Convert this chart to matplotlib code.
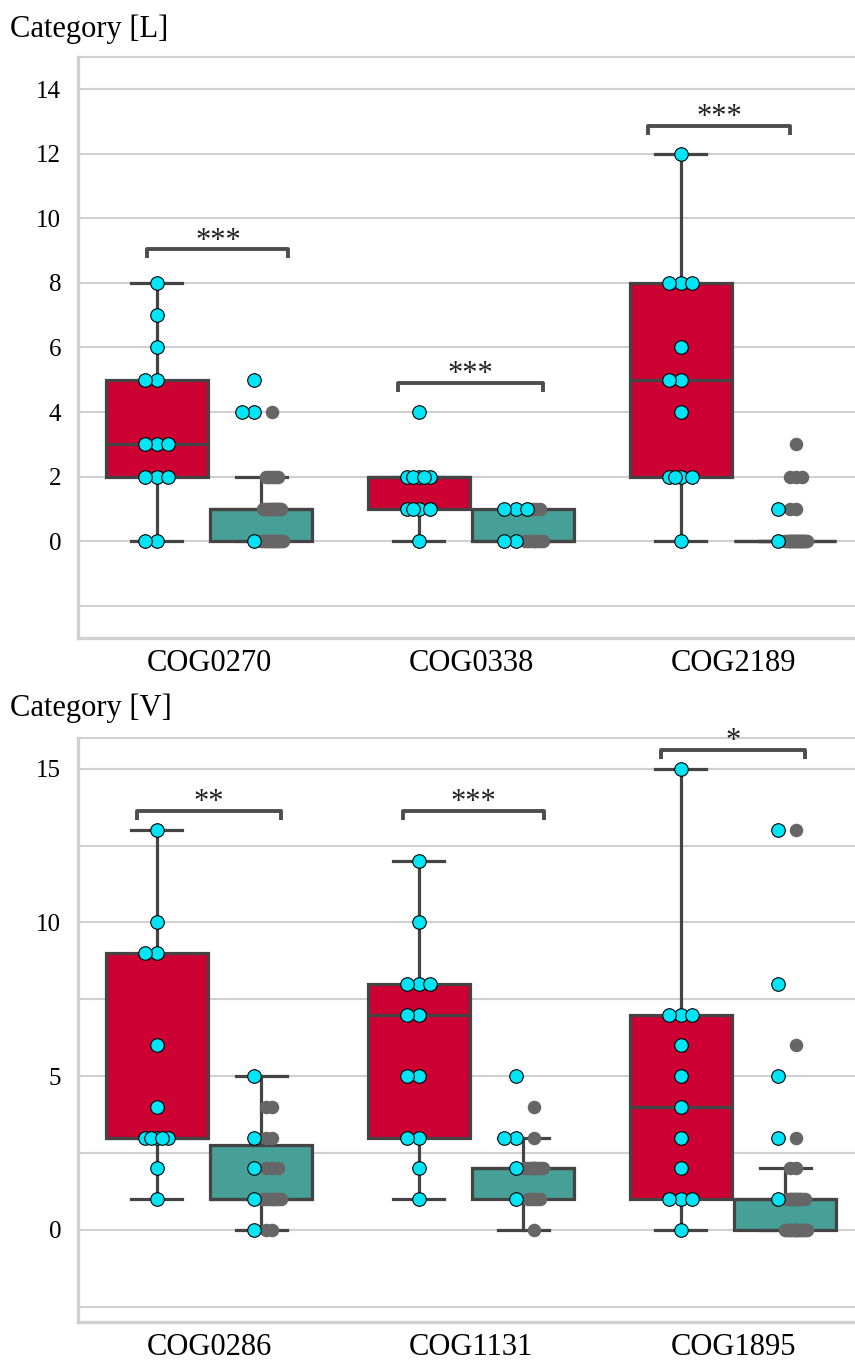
import matplotlib
matplotlib.use("Agg")
import matplotlib.pyplot as plt

plt.rcParams['font.family'] = ['Liberation Serif', 'DejaVu Serif']

# Category [L]
cats_L = ['COG0270', 'COG0338', 'COG2189']
red_L = [
    [0, 0, 2, 2, 2, 3, 3, 3, 5, 5, 6, 7, 8],
    [0, 1, 1, 1, 1, 2, 2, 2, 2, 2, 4],
    [0, 2, 2, 2, 2, 4, 5, 5, 6, 8, 8, 8, 12],
]
teal_gray_L = [
    [0] * 15 + [1] * 12 + [2] * 5 + [4],
    [0] * 8 + [1] * 5,
    [0] * 21 + [1] * 2 + [2] * 3 + [3],
]
teal_cyan_L = [
    [0, 4, 4, 5],
    [0, 0, 1, 1, 1],
    [0, 1],
]
stars_L = ['***', '***', '***']
yticks_L = [-2, 0, 2, 4, 6, 8, 10, 12, 14]
ylabels_L = ['', '0', '2', '4', '6', '8', '10', '12', '14']

# Category [V]
cats_V = ['COG0286', 'COG1131', 'COG1895']
red_V = [
    [1, 2, 3, 3, 3, 3, 3, 4, 6, 9, 9, 10, 13],
    [1, 2, 3, 3, 5, 5, 7, 7, 8, 8, 8, 10, 12],
    [0, 1, 1, 1, 2, 3, 4, 5, 6, 7, 7, 7, 15],
]
teal_gray_V = [
    [0, 0] + [1] * 8 + [2] * 3 + [3] * 2 + [4] * 2,
    [0] + [1] * 5 + [2] * 9 + [3] + [4],
    [0] * 16 + [1] * 11 + [2] * 2 + [3, 6, 13],
]
teal_cyan_V = [
    [0, 1, 2, 3, 5],
    [1, 2, 3, 3, 5],
    [1, 3, 5, 8, 13],
]
stars_V = ['**', '***', '*']
yticks_V = [-2.5, 0, 2.5, 5, 7.5, 10, 12.5, 15]
ylabels_V = ['', '0', '', '5', '', '10', '', '15']

RED = '#CC0033'
TEAL = '#47A098'
EDGE = '#444444'
GRID = '#D0D0D0'
PATTERN = [0, -0.45, 0.45, -0.2, 0.2, 0.7, -0.7, 0.1, -0.1, 0.35, -0.35, 0.55, -0.55, 0.85, -0.85]


def jitter(vals, spread):
    seen = {}
    out = []
    for v in vals:
        k = seen.get(v, 0)
        seen[v] = k + 1
        out.append(spread * PATTERN[k % len(PATTERN)])
    return out


def draw_panel(ax, cats, red, tgray, tcyan, stars, brackets, ylim, yticks, ylabels):
    teal_all = [g + c for g, c in zip(tgray, tcyan)]
    pos = list(range(len(cats)))
    line = dict(color=EDGE, linewidth=2.3)
    for data, off, col in [(red, -0.2, RED), (teal_all, 0.2, TEAL)]:
        ax.boxplot(data, positions=[p + off for p in pos], widths=0.39,
                   patch_artist=True, showfliers=False,
                   boxprops=dict(facecolor=col, edgecolor=EDGE, linewidth=2.3),
                   medianprops=line, whiskerprops=line, capprops=line,
                   zorder=2)

    for i in pos:
        # gray points of the teal group
        g = tgray[i]
        xs = [i + 0.2 + 0.04 + j for j in jitter(g, 0.05)]
        ax.scatter(xs, g, s=95, color='#666666', linewidths=0, zorder=3)
        # cyan points
        xs = [i - 0.2 + j for j in jitter(red[i], 0.1)]
        ax.scatter(xs, red[i], s=95, color='#00E5F5', edgecolors='black',
                   linewidths=0.8, zorder=4)
        c = tcyan[i]
        xs = [i + 0.2 - 0.03 + j for j in jitter(c, 0.1)]
        ax.scatter(xs, c, s=95, color='#00E5F5', edgecolors='black',
                   linewidths=0.8, zorder=4)

        # significance bracket
        lo, hi, yb, drop = brackets[i]
        ax.plot([i + lo, i + lo, i + hi, i + hi], [yb - drop, yb, yb, yb - drop],
                color='#4D4D4D', linewidth=2.8, solid_capstyle='butt', zorder=5)
        ax.text(i + (lo + hi) / 2, yb - 0.2, stars[i], ha='center', va='bottom',
                fontsize=22, color='#222222')

    ax.set_xlim(-0.5, len(cats) - 0.5)
    ax.set_ylim(*ylim)
    ax.set_xticks(pos)
    ax.set_xticklabels(cats, fontsize=22)
    ax.set_yticks(yticks)
    ax.set_yticklabels(ylabels, fontsize=18)
    ax.tick_params(length=0)
    ax.tick_params(axis='y', pad=12)
    ax.tick_params(axis='x', pad=8)
    ax.grid(axis='y', color=GRID, linewidth=1.5)
    ax.set_axisbelow(True)
    for s in ['left', 'bottom']:
        ax.spines[s].set_color(GRID)
        ax.spines[s].set_linewidth(2.4)
    ax.spines['top'].set_color(GRID)
    ax.spines['top'].set_linewidth(1.5)
    ax.spines['right'].set_visible(False)


fig = plt.figure(figsize=(8.55, 13.6), dpi=100)

ax1 = fig.add_axes([78 / 855, (1360 - 638) / 1360, 786 / 855, (638 - 57) / 1360])
draw_panel(ax1, cats_L, red_L, teal_gray_L, teal_cyan_L, stars_L,
           [(-0.235, 0.303, 9.04, 0.28), (-0.277, 0.273, 4.91, 0.28),
            (-0.326, 0.219, 12.87, 0.28)],
           (-3, 15), yticks_L, ylabels_L)

ax2 = fig.add_axes([78 / 855, (1360 - 1322) / 1360, 786 / 855, (1322 - 738) / 1360])
draw_panel(ax2, cats_V, red_V, teal_gray_V, teal_cyan_V, stars_V,
           [(-0.273, 0.273, 13.64, 0.3), (-0.258, 0.28, 13.64, 0.3),
            (-0.273, 0.273, 15.62, 0.3)],
           (-3, 16), yticks_V, ylabels_V)

fig.text(10 / 855, 1 - 37 / 1360, 'Category [L]', fontsize=22, va='baseline', ha='left')
fig.text(10 / 855, 1 - 716 / 1360, 'Category [V]', fontsize=22, va='baseline', ha='left')

fig.savefig('out.png', dpi=100)
